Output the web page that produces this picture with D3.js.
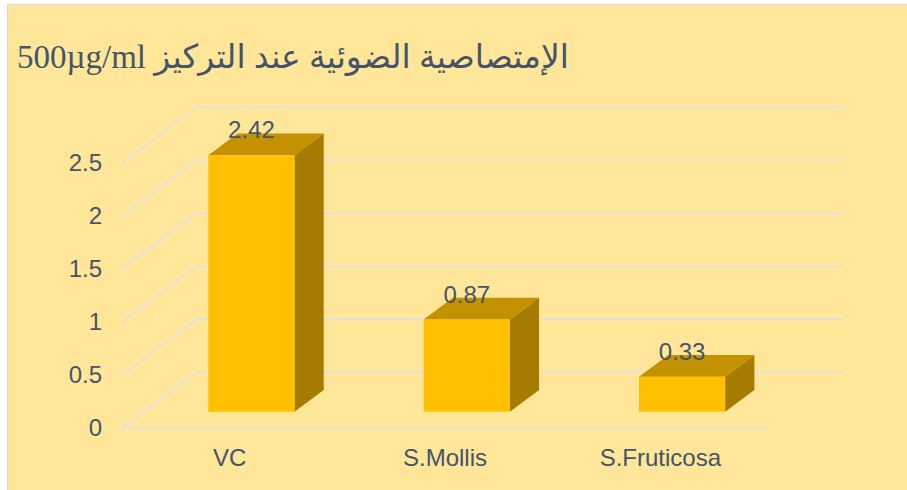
<!DOCTYPE html>
<html>
<head>
<meta charset="utf-8">
<script src="https://cdn.jsdelivr.net/npm/d3@7"></script>
<style>
  body { margin: 0; background: #ffffff; }
  svg { display: block; }
</style>
</head>
<body>
<svg id="chart" width="907" height="490"></svg>
<script>
// chart data
var categories = ["VC", "S.Mollis", "S.Fruticosa"]
var values = [2.42, 0.87, 0.33]
var yTicks = [0, 0.5, 1, 1.5, 2, 2.5]
var title = "الإمتصاصية الضوئية عند التركيز 500µg/ml"

var width = 907
var height = 490
var textColor = "#44546A"

// depth of the 3d box (wall shift)
var depthX = 75
var depthY = -56
// bar sits between these fractions of the depth
var barFront = 0.29
var barBack = 0.68

var svg = d3.select("#chart")

// background + frame
svg.append("rect")
    .attr("x", 7.5).attr("y", 4.5)
    .attr("width", width).attr("height", height)
    .attr("fill", "#FFE699")
    .attr("stroke", "#D9D9D9")
    .attr("stroke-width", 1)

var x = d3.scaleBand()
    .domain(categories)
    .range([122, 768])
    .paddingInner(0.6)
    .paddingOuter(0.3)

var y = d3.scaleLinear()
    .domain([0, 2.5])
    .range([428, 163])

// gridlines: left wall diagonal + back wall line
var floorLeft = 122
var floorRight = 768
var grid = svg.append("g").attr("class", "grid")
    .attr("fill", "none")
    .attr("stroke", "#E3E1DA")
    .attr("stroke-width", 2)

grid.selectAll("path")
    .data(yTicks)
    .enter()
    .append("path")
    .attr("d", function (t) {
        var yy = y(t)
        return "M" + floorLeft + "," + yy +
            "L" + (floorLeft + depthX) + "," + (yy + depthY) +
            "L" + (floorRight + depthX) + "," + (yy + depthY)
    })

// front edge of floor
grid.append("line")
    .attr("x1", floorLeft).attr("y1", y(0))
    .attr("x2", floorRight).attr("y2", y(0))

// tick labels
svg.append("g")
    .selectAll("text")
    .data(yTicks)
    .enter()
    .append("text")
    .attr("x", 102)
    .attr("y", (d) => y(d))
    .attr("dy", "0.35em")
    .attr("text-anchor", "end")
    .attr("font-family", "Liberation Sans, Arial, sans-serif")
    .attr("font-size", 24)
    .attr("fill", textColor)
    .text((d) => d)

// category labels
svg.append("g")
    .selectAll("text")
    .data(categories)
    .enter()
    .append("text")
    .attr("x", (d) => x(d) + x.bandwidth() / 2)
    .attr("y", 466)
    .attr("text-anchor", "middle")
    .attr("font-family", "Liberation Sans, Arial, sans-serif")
    .attr("font-size", 24)
    .attr("fill", textColor)
    .text((d) => d)

// bars as 3d boxes
var bars = categories.map(function (c, i) {
    return { cat: c, value: values[i] }
})

var fx = depthX * barFront, fy = depthY * barFront
var bx = depthX * (barBack - barFront), by = depthY * (barBack - barFront)

var barG = svg.append("g").selectAll("g")
    .data(bars)
    .enter()
    .append("g")

function pts(arr) {
    return arr.map((p) => p.join(",")).join(" ")
}

// side face
barG.append("polygon")
    .attr("fill", "#A67C00")
    .attr("points", function (d) {
        var x1 = x(d.cat) + x.bandwidth() + fx
        var y0 = y(0) + fy, y1 = y(d.value) + fy
        return pts([[x1, y0], [x1, y1], [x1 + bx, y1 + by], [x1 + bx, y0 + by]])
    })

// top face
barG.append("polygon")
    .attr("fill", "#C49200")
    .attr("points", function (d) {
        var x0 = x(d.cat) + fx, x1 = x0 + x.bandwidth()
        var y1 = y(d.value) + fy
        return pts([[x0, y1], [x1, y1], [x1 + bx, y1 + by], [x0 + bx, y1 + by]])
    })

// front face
barG.append("rect")
    .attr("fill", "#FFC000")
    .attr("x", (d) => x(d.cat) + fx)
    .attr("y", (d) => y(d.value) + fy)
    .attr("width", x.bandwidth())
    .attr("height", (d) => y(0) - y(d.value))

// data labels
barG.append("text")
    .attr("x", (d) => x(d.cat) + fx + x.bandwidth() / 2)
    .attr("y", (d) => y(d.value) + fy - 17)
    .attr("text-anchor", "middle")
    .attr("font-family", "Liberation Sans, Arial, sans-serif")
    .attr("font-size", 24)
    .attr("fill", textColor)
    .text((d) => d.value.toFixed(2))

// title
svg.append("text")
    .attr("x", 293)
    .attr("y", 68)
    .attr("direction", "rtl")
    .attr("text-anchor", "middle")
    .attr("font-family", "Liberation Serif, Times New Roman, DejaVu Sans, serif")
    .attr("font-size", 33)
    .attr("fill", textColor)
    .text(title)
</script>
</body>
</html>
